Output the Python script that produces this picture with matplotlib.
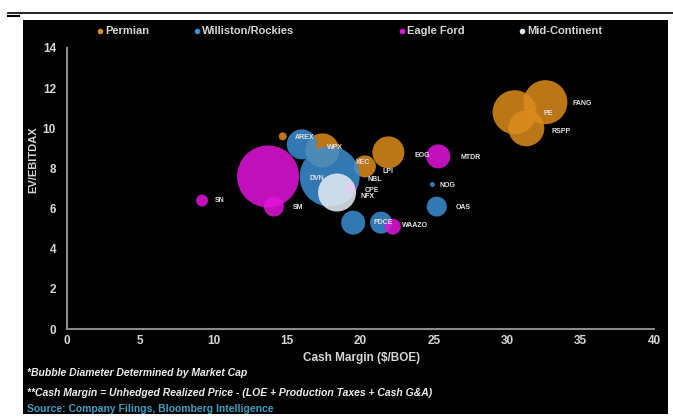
import matplotlib
matplotlib.use("Agg")
import matplotlib.pyplot as plt
from matplotlib.patches import Rectangle
from matplotlib.lines import Line2D
from matplotlib import font_manager

# ---- data -------------------------------------------------------------
regions = ["Permian", "Williston/Rockies", "Eagle Ford", "Mid-Continent"]

permian_names = ["FANG", "PE", "RSPP", "LPI", "XEC", "WPX", ""]
permian_margin = [32.6, 30.5, 31.3, 21.9, 20.3, 17.4, 14.7]
permian_ev = [11.3, 10.8, 10.0, 8.8, 8.1, 8.9, 9.6]
permian_cap = [44, 44, 36, 32, 22, 34, 8]

rockies_names = ["AREX", "DVN", "NBL", "PDCE", "NOG", "OAS"]
rockies_margin = [16.0, 17.9, 19.5, 21.4, 24.9, 25.2]
rockies_ev = [9.2, 7.6, 5.3, 5.3, 7.2, 6.1]
rockies_cap = [30, 60, 24, 22, 5, 20]

eagle_names = ["EOG", "SM", "SN", "MTDR", "WAAZO", "CPE"]
eagle_margin = [13.7, 14.1, 9.2, 25.3, 22.2, 19.3]
eagle_ev = [7.6, 6.1, 6.4, 8.6, 5.1, 7.0]
eagle_cap = [62, 20, 12, 24, 16, 12]

midcon_names = ["NFX"]
midcon_margin = [18.4]
midcon_ev = [6.8]
midcon_cap = [38]

x_ticks = [0, 5, 10, 15, 20, 25, 30, 35, 40]
y_ticks = [0, 2, 4, 6, 8, 10, 12, 14]

# ---- styling ----------------------------------------------------------
available = {f.name for f in font_manager.fontManager.ttflist}
FONT = "Liberation Sans Narrow" if "Liberation Sans Narrow" in available else "Liberation Sans"
plt.rcParams["font.family"] = [FONT, "DejaVu Sans"]
plt.rcParams["font.weight"] = "bold"

colors = {
    "Permian": "#DC8C1C",
    "Williston/Rockies": "#3C8ED2",
    "Eagle Ford": "#E214DC",
    "Mid-Continent": "#E2EAF2",
}
TXT = "#D6D6D6"
DPI = 100

# label offsets (pixels) from each bubble centre
permian_off = [(37, -1), (34, -1), (35, -3), (0, -19), (-2, 4), (13, 3), (0, 0)]
rockies_off = [(3, 7), (-13, -2), (22, 43), (2, 0), (15, -1), (26, -1)]
eagle_off = [(154, 21), (24, -1), (18, 0), (32, -1), (22, 1), (22, -2)]
midcon_off = [(30, -4)]

fig = plt.figure(figsize=(6.73, 4.16), dpi=DPI)
fig.patch.set_facecolor("white")

# dark panel and rule above it
fig.add_artist(Rectangle((23 / 673, 1 - 414 / 416), 645 / 673, 394 / 416,
                         transform=fig.transFigure, facecolor="black",
                         edgecolor="none", zorder=0))
fig.add_artist(Line2D([8 / 673, 1.0], [1 - 13 / 416, 1 - 13 / 416],
                      transform=fig.transFigure, color="black", lw=1.2))
fig.add_artist(Line2D([8 / 673, 19 / 673], [1 - 16 / 416, 1 - 16 / 416],
                      transform=fig.transFigure, color="black", lw=1.5))

ax = fig.add_axes([67 / 673, 1 - 329 / 416, 587 / 673, 281 / 416])
ax.set_facecolor("black")
ax.set_xlim(0, 40)
ax.set_ylim(0, 14)
ax.set_xticks(x_ticks)
ax.set_yticks(y_ticks)
ax.tick_params(length=0, colors=TXT, labelsize=8.5)
ax.tick_params(axis="y", pad=8)
ax.tick_params(axis="x", pad=4)
for lab in ax.get_xticklabels() + ax.get_yticklabels():
    lab.set_fontweight("bold")
for s in ["top", "right"]:
    ax.spines[s].set_visible(False)
for s in ["left", "bottom"]:
    ax.spines[s].set_color("#8A8A8A")
    ax.spines[s].set_linewidth(1.5)


def draw(names, xs, ys, caps, offs, color, alpha=0.85, z=2):
    sizes = [(c * 72 / DPI) ** 2 for c in caps]
    ax.scatter(xs, ys, s=sizes, color=color, alpha=alpha, edgecolors="none",
               zorder=z)
    for n, x, y, (dx, dy) in zip(names, xs, ys, offs):
        if n:
            ax.annotate(n, (x, y), xytext=(dx, dy), textcoords="offset pixels",
                        ha="center", va="center", fontsize=5.0,
                        color="#E4E4E4", fontweight="bold", zorder=10)


draw(permian_names, permian_margin, permian_ev, permian_cap, permian_off,
     colors["Permian"], z=2)
draw(rockies_names, rockies_margin, rockies_ev, rockies_cap, rockies_off,
     colors["Williston/Rockies"], z=3)
draw(eagle_names, eagle_margin, eagle_ev, eagle_cap, eagle_off,
     colors["Eagle Ford"], z=4)
draw(midcon_names, midcon_margin, midcon_ev, midcon_cap, midcon_off,
     colors["Mid-Continent"], alpha=0.88, z=5)

# legend along the top of the panel
leg_x = [100, 197, 402, 522]
for name, lx in zip(regions, leg_x):
    fig.add_artist(Line2D([lx / 673], [1 - 31 / 416], marker="o",
                          markersize=3, color=colors[name], linestyle="none",
                          transform=fig.transFigure))
    fig.text((lx + 5) / 673, 1 - 31 / 416, name, color=TXT, fontsize=8,
             fontweight="bold", ha="left", va="center")

fig.text(33 / 673, 1 - 160 / 416, "EV/EBITDAX", rotation=90, color=TXT,
         fontsize=8, fontweight="bold", ha="center", va="center")
fig.text(362 / 673, 1 - 358 / 416, "Cash Margin ($/BOE)", color=TXT,
         fontsize=8.5, fontweight="bold", ha="center", va="center")

fig.text(27 / 673, 1 - 373 / 416, "*Bubble Diameter Determined by Market Cap",
         color="#EDEDED", fontsize=7.5, fontweight="bold", style="italic",
         ha="left", va="center")
fig.text(27 / 673, 1 - 393 / 416,
         "**Cash Margin = Unhedged Realized Price - (LOE + Production Taxes + Cash G&A)",
         color="#EDEDED", fontsize=7.5, fontweight="bold", style="italic",
         ha="left", va="center")
fig.text(27 / 673, 1 - 409 / 416, "Source: Company Filings, Bloomberg Intelligence",
         color="#3AA0C4", fontsize=7.5, fontweight="bold",
         ha="left", va="center")

fig.savefig("out.png", dpi=DPI, facecolor=fig.get_facecolor())
